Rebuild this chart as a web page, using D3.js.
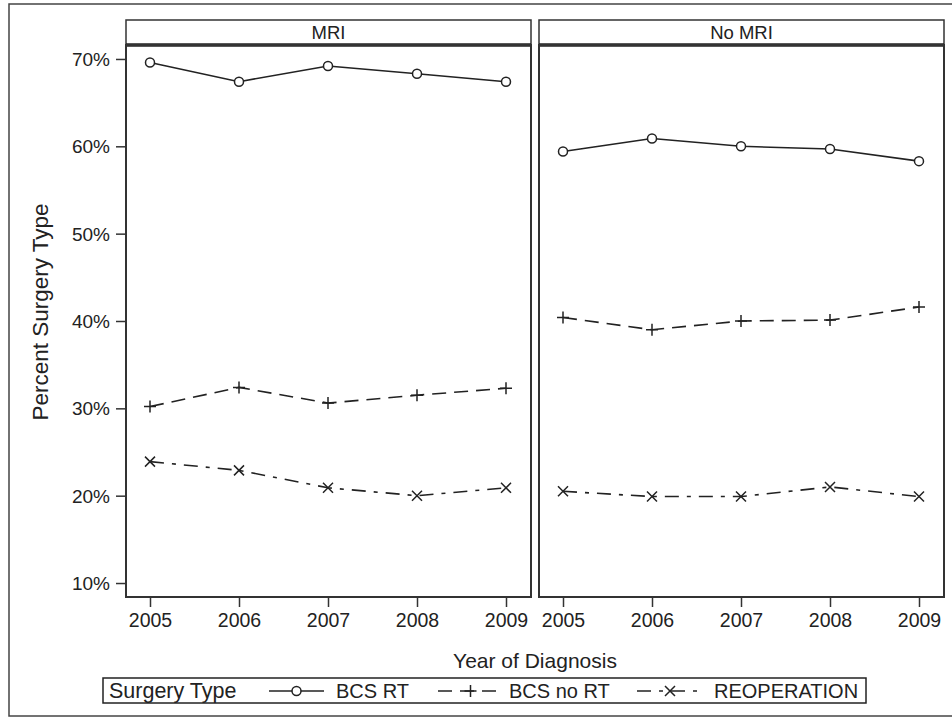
<!DOCTYPE html>
<html><head><meta charset="utf-8">
<script src="https://cdn.jsdelivr.net/npm/d3@7"></script>
<style>body{margin:0;background:#fff}text{font-family:"Liberation Sans",Arial,sans-serif;fill:#222}</style>
</head><body><svg id="c" width="952" height="717"></svg>
<script>
const years = [2005, 2006, 2007, 2008, 2009];
const panels = ["MRI", "No MRI"];
const seriesNames = ["BCS RT", "BCS no RT", "REOPERATION"];
const mriBcsRt = [69.6, 67.4, 69.2, 68.3, 67.4];
const mriBcsNoRt = [30.2, 32.4, 30.6, 31.5, 32.3];
const mriReop = [23.9, 22.9, 20.9, 20.0, 20.9];
const noMriBcsRt = [59.4, 60.9, 60.0, 59.7, 58.3];
const noMriBcsNoRt = [40.4, 39.0, 40.0, 40.1, 41.6];
const noMriReop = [20.5, 19.9, 19.9, 21.0, 19.9];
const yTicks = [10, 20, 30, 40, 50, 60, 70];

(function () {
const panelData = [
  [mriBcsRt, mriBcsNoRt, mriReop],
  [noMriBcsRt, noMriBcsNoRt, noMriReop]
];
const dashes = [null, "14,8", "14,8,4,8"];
const markers = ["circle", "plus", "cross"];

const svg = d3.select("#c");
svg.append("rect").attr("x", 9).attr("y", 4).attr("width", 980).attr("height", 712)
  .attr("fill", "none").attr("stroke", "#444").attr("stroke-width", 1.5);

const headTop = 20, headerBottom = 45, plotBottom = 597;
const panelX = [[126, 531], [539, 944]];
const y = d3.scaleLinear().domain([8.4, 71.37]).range([plotBottom, headerBottom + 2]);

function drawMarker(g, type, cx, cy) {
  if (type === "circle") {
    g.append("circle").attr("cx", cx).attr("cy", cy).attr("r", 4.5)
      .attr("fill", "#fff").attr("stroke", "#222").attr("stroke-width", 1.5);
  } else if (type === "plus") {
    g.append("path").attr("d", `M${cx-6},${cy}H${cx+6}M${cx},${cy-6}V${cy+6}`)
      .attr("stroke", "#222").attr("stroke-width", 1.5);
  } else {
    g.append("path").attr("d", `M${cx-5},${cy-5}L${cx+5},${cy+5}M${cx-5},${cy+5}L${cx+5},${cy-5}`)
      .attr("stroke", "#222").attr("stroke-width", 1.5);
  }
}

panels.forEach((name, pi) => {
  const [x0, x1] = panelX[pi];
  const x = d3.scaleLinear().domain([2005, 2009]).range([x0 + 24, x1 - 25]);
  const g = svg.append("g");
  g.append("rect").attr("x", x0).attr("y", headTop).attr("width", x1 - x0).attr("height", headerBottom - headTop)
    .attr("fill", "#fff").attr("stroke", "#333").attr("stroke-width", 1.5);
  g.append("line").attr("x1", x0).attr("x2", x1).attr("y1", headerBottom).attr("y2", headerBottom)
    .attr("stroke", "#222").attr("stroke-width", 3.5);
  g.append("text").attr("x", (x0 + x1) / 2).attr("y", 39).attr("text-anchor", "middle")
    .style("font-size", "18.5px").text(name);
  g.append("rect").attr("x", x0).attr("y", headerBottom).attr("width", x1 - x0).attr("height", plotBottom - headerBottom)
    .attr("fill", "none").attr("stroke", "#333").attr("stroke-width", 2);
  const xa = g.append("g").attr("transform", `translate(0,${plotBottom})`)
    .call(d3.axisBottom(x).tickValues(years).tickFormat(d3.format("d")).tickSize(10).tickPadding(6));
  xa.select(".domain").remove();
  xa.selectAll("line").attr("stroke", "#333").attr("stroke-width", 1.5);
  xa.selectAll("text").style("font-size", "19.5px").attr("fill", "#222");
  if (pi === 0) {
    const ya = g.append("g").attr("transform", `translate(${x0},0)`)
      .call(d3.axisLeft(y).tickValues(yTicks).tickFormat(d => d + "%").tickSize(10).tickPadding(6));
    ya.select(".domain").remove();
    ya.selectAll("line").attr("stroke", "#333").attr("stroke-width", 1.5);
    ya.selectAll("text").style("font-size", "19px").attr("fill", "#222").attr("dy", "0.35em");
  }
  panelData[pi].forEach((vals, si) => {
    const line = d3.line().x((d, i) => x(years[i])).y(d => y(d));
    g.append("path").attr("d", line(vals)).attr("fill", "none").attr("stroke", "#222")
      .attr("stroke-width", 1.6).attr("stroke-dasharray", dashes[si]);
    vals.forEach((v, i) => drawMarker(g, markers[si], x(years[i]), y(v)));
  });
});

svg.append("text").attr("x", 535).attr("y", 668).attr("text-anchor", "middle")
  .style("font-size", "21px").text("Year of Diagnosis");
svg.append("text").attr("transform", "translate(48,312) rotate(-90)").attr("text-anchor", "middle")
  .style("font-size", "22.5px").text("Percent Surgery Type");

const lg = svg.append("g");
lg.append("rect").attr("x", 103).attr("y", 678).attr("width", 763).attr("height", 25)
  .attr("fill", "#fff").attr("stroke", "#222").attr("stroke-width", 1.5);
lg.append("text").attr("x", 109).attr("y", 698).style("font-size", "21.5px").text("Surgery Type");
const legItems = [
  {x1: 269, x2: 324, tx: 336},
  {x1: 438, x2: 503, tx: 509},
  {x1: 637, x2: 703, tx: 714}
];
legItems.forEach((it, si) => {
  const cy = 691;
  lg.append("line").attr("x1", it.x1).attr("x2", it.x2).attr("y1", cy).attr("y2", cy)
    .attr("stroke", "#222").attr("stroke-width", 1.6).attr("stroke-dasharray", dashes[si]);
  drawMarker(lg, markers[si], (it.x1 + it.x2) / 2, cy);
  lg.append("text").attr("x", it.tx).attr("y", 698).style("font-size", "20px").text(seriesNames[si]);
});
})();
</script></body></html>
